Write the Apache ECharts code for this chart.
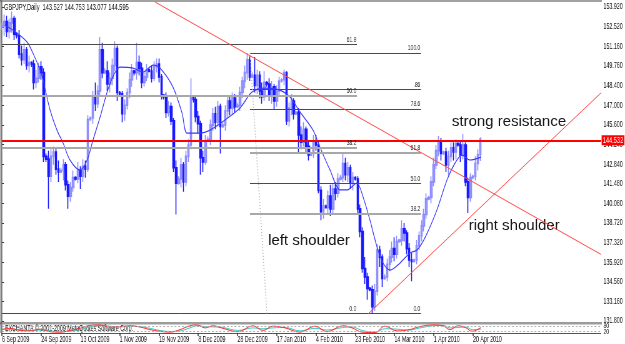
<!DOCTYPE html>
<html><head><meta charset="utf-8">
<script src="https://cdn.jsdelivr.net/npm/echarts@6/dist/echarts.min.js"></script>
<style>html,body{margin:0;padding:0;background:#fff;overflow:hidden;width:625px;height:344px}
#c{width:1000px;height:344px;transform:scaleX(0.625);transform-origin:0 0}</style>
</head><body><div id="c"></div>
<script>
const FONT = "'Liberation Sans',Arial,sans-serif";
// ---- data (bar index 0 = 6 Sep 2009) ----
const opens = [152.5,152.6,152.9,152.2,152.8,153.1,152.0,151.9,150.6,150.2,150.9,149.8,150.0,149.9,148.6,148.9,149.7,149.3,143.4,143.2,
142.0,143.4,143.7,142.5,142.3,142.4,142.8,141.4,140.6,141.2,141.9,141.8,142.4,142.0,142.7,142.5,146.0,146.1,147.6,147.1,
148.0,150.9,149.3,149.4,148.5,148.9,149.8,151.0,147.9,147.8,146.4,147.0,147.9,148.8,149.4,149.3,150.0,149.6,148.6,149.0,
149.5,149.4,148.9,149.7,149.9,149.0,147.7,147.6,146.5,146.9,145.9,142.6,141.5,141.8,142.8,141.6,143.4,144.2,147.6,147.4,
146.2,145.7,143.3,143.0,144.5,144.6,145.6,146.4,145.8,146.9,145.5,145.6,146.6,147.3,146.8,147.5,146.9,147.0,147.9,148.7,
149.3,150.2,149.0,149.1,148.4,149.1,148.0,147.6,148.6,148.5,147.7,148.3,147.3,148.0,148.7,148.8,149.3,145.9,146.8,147.3,
146.4,146.5,144.9,144.4,145.3,144.1,143.5,143.6,144.5,144.2,141.0,139.5,139.9,139.8,140.6,139.7,141.1,140.8,141.8,141.9,
142.9,142.1,142.6,141.5,141.9,141.8,139.7,138.1,135.5,134.9,134.1,134.0,132.8,133.9,136.8,136.3,134.8,134.9,135.8,136.3,
136.9,136.5,137.4,137.5,138.3,138.0,136.9,136.1,136.0,136.1,137.1,137.8,138.5,139.3,140.4,140.5,141.6,142.8,143.8,144.4,
143.6,143.7,142.8,143.4,144.0,143.7,144.3,144.2,143.5,144.2,141.6,140.5,141.9,142.0,142.9,143.527];
const closes = [152.6,152.9,152.2,152.8,153.1,152.0,151.9,150.6,150.2,150.9,149.8,150.0,149.9,148.6,148.9,149.7,149.3,143.4,143.2,142.0,
143.4,143.7,142.5,142.3,142.4,142.8,141.4,140.6,141.2,141.9,141.8,142.4,142.0,142.7,142.5,146.0,146.1,147.6,147.1,148.0,
150.9,149.3,149.4,148.5,148.9,149.8,151.0,147.9,147.8,146.4,147.0,147.9,148.8,149.4,149.3,150.0,149.6,148.6,149.0,149.5,
149.4,148.9,149.7,149.9,149.0,147.7,147.6,146.5,146.9,145.9,142.6,141.5,141.8,142.8,141.6,143.4,144.2,147.6,147.4,146.2,
145.7,143.3,143.0,144.5,144.6,145.6,146.4,145.8,146.9,145.5,145.6,146.6,147.3,146.8,147.5,146.9,147.0,147.9,148.7,149.3,
150.2,149.0,149.1,148.4,149.1,148.0,147.6,148.6,148.5,147.7,148.3,147.3,148.0,148.7,148.8,149.3,145.9,146.8,147.3,146.4,
146.5,144.9,144.4,145.3,144.1,143.5,143.6,144.5,144.2,141.0,139.5,139.9,139.8,140.6,139.7,141.1,140.8,141.8,141.9,142.9,
142.1,142.6,141.5,141.9,141.8,139.7,138.1,135.5,134.9,134.1,134.0,132.8,133.9,136.8,136.3,134.8,134.9,135.8,136.3,136.9,
136.5,137.4,137.5,138.3,138.0,136.9,136.1,136.0,136.1,137.1,137.8,138.5,139.3,140.4,140.5,141.6,142.8,143.8,144.4,143.6,
143.7,142.8,143.4,144.0,143.7,144.3,144.2,143.5,144.2,141.6,140.5,141.9,142.0,142.9,143.5,144.595];
const lows = [152.3,151.9,151.8,151.7,152.1,151.6,151.7,150.3,149.8,149.9,149.5,149.3,149.7,148.1,148.2,148.6,148.8,143.0,143.0,139.7,
141.6,142.8,142.1,141.6,142.2,141.7,141.0,139.7,140.2,140.9,141.7,141.5,141.1,141.6,141.9,142.3,145.9,145.7,146.6,146.8,
147.6,148.9,149.2,148.0,147.9,148.4,149.4,147.3,147.6,145.8,145.9,146.7,147.5,148.3,149.1,148.8,149.1,148.2,148.3,148.7,
149.3,148.6,148.7,149.3,148.6,147.4,147.4,146.1,146.2,145.6,142.3,139.3,141.4,141.2,140.9,141.3,143.0,143.9,147.2,145.8,
145.0,142.1,142.3,142.8,144.4,144.2,145.2,145.3,145.5,143.6,145.4,145.2,146.1,146.3,146.4,146.5,146.8,146.6,147.5,148.2,
148.8,148.7,148.9,147.9,147.8,147.5,147.1,147.3,148.3,147.3,147.1,146.7,146.9,147.6,148.6,148.4,145.6,145.5,146.3,146.0,
146.3,143.6,143.9,144.1,143.6,143.1,143.4,143.3,143.8,140.8,138.9,139.0,139.7,139.3,139.2,139.4,140.3,140.5,141.7,141.6,
141.7,141.6,141.1,141.0,141.7,139.3,137.7,135.2,134.4,133.3,133.9,132.29,132.5,133.6,135.6,134.2,134.7,134.6,135.3,135.9,
136.0,136.2,137.3,137.1,137.4,136.5,135.6,134.6,135.9,135.8,136.8,137.4,138.1,139.0,140.3,140.1,141.3,142.5,143.4,143.1,
143.5,142.3,142.0,143.0,143.1,143.2,144.1,143.0,143.2,141.3,139.4,140.2,141.8,141.7,142.4,143.077];
const highs = [152.8,153.4,153.3,153.1,153.6,153.3,152.1,152.3,151.2,151.4,151.1,150.5,150.1,150.2,149.5,150.0,150.1,149.6,143.6,143.8,
143.9,144.1,144.0,143.1,142.6,143.2,143.0,141.7,141.6,142.4,142.0,143.0,142.7,143.2,143.1,146.3,146.2,148.0,148.6,148.4,
151.8,151.4,149.6,150.1,149.3,150.3,151.5,151.2,148.0,148.0,147.4,148.2,149.3,149.9,149.5,151.4,150.5,150.0,149.4,149.9,
149.6,149.8,150.1,150.3,150.3,149.2,147.8,147.9,147.3,147.2,146.1,143.1,142.0,143.3,143.0,143.8,144.6,148.9,147.7,147.7,
146.6,145.9,143.8,144.9,144.8,146.0,146.8,146.9,147.3,147.1,145.8,147.0,147.7,147.6,147.9,147.8,147.2,148.3,149.0,149.8,
150.68,150.5,149.3,150.4,149.5,149.4,148.6,149.4,148.7,148.9,148.7,148.5,148.4,149.0,148.9,149.5,149.4,147.2,147.8,147.5,
146.6,146.8,145.5,145.8,145.5,144.5,143.7,144.9,144.9,144.5,141.3,140.4,140.0,141.0,141.4,141.5,141.6,142.2,142.1,143.6,
143.3,143.0,142.8,142.3,142.0,142.0,140.0,138.4,136.3,135.2,134.2,134.3,134.4,137.2,137.1,136.5,135.1,136.2,136.8,137.4,
137.7,137.8,137.6,138.9,138.7,138.2,137.3,136.6,136.2,137.5,138.1,138.9,139.7,140.8,140.6,142.0,143.3,144.2,144.83,144.7,
143.8,144.0,143.8,144.4,144.4,144.6,144.4,144.5,144.97,144.4,141.9,142.2,142.1,143.4,143.9,144.753];
// moving average read at [bar index, price]
const maPoints = [[1.2,152.65],[6.1,152.09],[10.2,151.45],[12.6,150.68],[15.5,149.48],[16.7,148.78],[19.6,146.66],[22.4,145.25],[24.9,144.34],[27.7,143.14],[31.8,142.44],[34.7,143.14],[37.1,144.55],[40,146.17],[44,148.5],[48.1,149.69],[53.4,149.62],[57.5,149.34],[61.6,149.83],[64.4,149.62],[69.7,148.28],[73.4,146.45],[75.4,145.04],[80.7,145.04],[84.8,145.25],[90.9,145.96],[97,146.8],[101.9,147.93],[107.2,148.21],[113.3,148.07],[117.4,147.58],[121.5,146.52],[126.8,145.25],[129.6,144.06],[133.7,142.44],[137.8,141.03],[140.6,141.03],[144.7,141.52],[147.2,140.54],[150,138.91],[152.9,137.01],[155.3,135.89],[158.2,135.39],[162.3,135.89],[166.3,136.59],[169.2,136.8],[172.4,137.65],[177.3,139.62],[181.4,141.73],[184.7,142.93],[187.5,143.49],[190.8,143.14],[195.3,143.35]];
// oscillator (sub window) read at [bar index, value]
const stochMain = [[0,40],[3.3,55],[7.3,30],[11.4,25],[15.5,45],[19.6,15],[23.6,10],[27.7,30],[31.8,55],[35.9,90],[40,95],[44,70],[48.1,75],[52.2,85],[56.3,70],[60.3,40],[64.4,20],[68.5,10],[72.6,40],[76.6,85],[79.5,95],[82.8,60],[86,85],[90,55],[96.2,15],[102.3,85],[106.4,30],[110.5,80],[115.4,60],[121.5,10],[127.6,80],[132.5,15],[139,85],[142.7,60],[146.8,10],[152.1,5],[156.1,80],[161,25],[166.3,40],[169.6,70],[175.7,95],[179.8,85],[182.6,40],[185.9,85],[189.2,60],[191.6,20],[195.3,65]];
const stochSignal = [[0,45],[3.3,45],[7.3,40],[11.4,30],[15.5,35],[19.6,25],[23.6,15],[27.7,20],[31.8,40],[35.9,70],[40,90],[44,80],[48.1,72],[52.2,78],[56.3,75],[60.3,55],[64.4,30],[68.5,18],[72.6,25],[76.6,60],[79.5,85],[82.8,75],[86,72],[90,65],[96.2,30],[102.3,60],[106.4,50],[110.5,60],[115.4,65],[121.5,25],[127.6,55],[132.5,35],[139,65],[142.7,70],[146.8,30],[152.1,10],[156.1,50],[161,45],[166.3,35],[169.6,55],[175.7,85],[179.8,90],[182.6,60],[185.9,65],[189.2,70],[191.6,40],[195.3,45]];
const xTickIndex = [0,16,32,48,64,80,96,112,128,144,160,176,192];
const xTickLabels = ['6 Sep 2009','24 Sep 2009','13 Oct 2009','1 Nov 2009','19 Nov 2009','8 Dec 2009','28 Dec 2009','17 Jan 2010','4 Feb 2010','23 Feb 2010','14 Mar 2010','1 Apr 2010','20 Apr 2010'];
const yTickLabels = [153.920,152.520,151.160,149.760,148.400,147.000,145.600,144.240,142.840,141.480,140.080,138.720,137.320,135.920,134.560,133.160,131.800];
const subTickLabels = [0,20,80,100];
// Fibonacci sets: label, price, and start/end bar index
const fib1Labels = ['0.0','38.2','50.0','61.8'];
const fib1Prices = [132.33,144.03,147.65,151.27];
const fib1Gray = [false,true,true,false];
const fib1Span = [0,144.7];
const fib2Labels = ['0.0','38.2','50.0','61.8','78.6','.86','100.0'];
const fib2Prices = [132.33,139.34,141.50,143.67,146.75,148.11,150.68];
const fib2Gray = [false,true,false,true,false,false,false];
const fib2Span = [101.1,170.8];
const fibTrend = [[101.1,150.68],[108,132.33]];
const resistance = 144.532;
const downTrend = [[62.4,154.27],[244.2,136.49]];
const upTrend = [[149.2,132.29],[244.2,147.87]];
const header = 'GBPJPY,Daily  143.527 144.753 143.077 144.595';

const candleData = opens.map((o,i)=>[i,o,closes[i],lows[i],highs[i]]);
function fibLines(labels, prices, gray, span){
  return labels.map((lb,k)=>[
    {coord:[span[0],prices[k]],
     lineStyle:{color: gray[k]?'#a8a8a8':'#4a4a4a', width: gray[k]?2:1, type:'solid'},
     label:{show:true, formatter:lb, position:'insideEndTop', distance:1, color:'#222', fontSize:8, fontFamily:FONT}},
    {coord:[span[1],prices[k]]}
  ]);
}
const red = '#ff4a4a';
const mlData = [].concat(
  fibLines(fib1Labels,fib1Prices,fib1Gray,fib1Span),
  fibLines(fib2Labels,fib2Prices,fib2Gray,fib2Span),
  [[{coord:fibTrend[0], lineStyle:{color:'#b0b0b0',width:1.5,type:[1,2]}, label:{show:false}},{coord:fibTrend[1]}]],
  [[{coord:downTrend[0], lineStyle:{color:red,width:1,type:'solid'}, label:{show:false}},{coord:downTrend[1]}]],
  [[{coord:upTrend[0], lineStyle:{color:red,width:1,type:'solid'}, label:{show:false}},{coord:upTrend[1]}]],
  [{yAxis:resistance, lineStyle:{color:'#ff0000',width:2,type:'solid'},
    label:{show:true, position:'end', distance:1, formatter:resistance.toFixed(3), color:'#fff', backgroundColor:'#ff0000', padding:[1,2,0,2], fontSize:9, fontFamily:FONT}}]
);

const XMAX = 244.2;
const chart = echarts.init(document.getElementById('c'), null, {renderer:'canvas'});
chart.setOption({
  animation:false,
  backgroundColor:'#fff',
  grid:[
    {left:3.2, right:38.4, top:1, height:321},
    {left:3.2, right:38.4, top:324.5, height:8.5}
  ],
  xAxis:[
    {type:'value', gridIndex:0, min:0, max:XMAX, show:false},
    {type:'value', gridIndex:1, min:0, max:XMAX,
     axisLine:{show:true, lineStyle:{color:'#555', width:1}},
     axisTick:{show:true, customValues:xTickIndex, length:3, lineStyle:{color:'#333', width:1.5}},
     axisLabel:{show:true, customValues:xTickIndex, formatter:(v)=>xTickLabels[xTickIndex.indexOf(Math.round(v))]||'',
       align:'left', margin:2, fontSize:8.5, color:'#111', fontFamily:FONT},
     splitLine:{show:false}}
  ],
  yAxis:[
    {type:'value', gridIndex:0, position:'right', min:131.729, max:154.343, scale:true,
     axisLine:{show:true, lineStyle:{color:'#777', width:1.5}},
     axisTick:{show:true, customValues:yTickLabels, length:3, inside:false, lineStyle:{color:'#333'}},
     axisLabel:{show:true, customValues:yTickLabels, formatter:(v)=>v.toFixed(3), margin:4, fontSize:8.5, color:'#111', fontFamily:FONT},
     splitLine:{show:false}},
    {type:'value', gridIndex:1, position:'right', min:0, max:100,
     axisLine:{show:true, lineStyle:{color:'#777', width:1.5}},
     axisTick:{show:true, customValues:subTickLabels, length:3, lineStyle:{color:'#333'}},
     axisLabel:{show:true, customValues:subTickLabels, margin:4, fontSize:8, color:'#111', fontFamily:FONT},
     splitLine:{show:false}}
  ],
  series:[
    {type:'candlestick', xAxisIndex:0, yAxisIndex:0, data:candleData, encode:{x:0,y:[1,2,3,4]},
     barWidth:3,
     itemStyle:{color:'#9a9aff', color0:'#1a1aff', borderColor:'#8c8cff', borderColor0:'#1a1aff', borderWidth:1.6},
     markLine:{silent:true, symbol:['none','none'], animation:false, data:mlData}},
    {type:'line', xAxisIndex:0, yAxisIndex:0, data:maPoints, symbol:'none', smooth:0.3,
     lineStyle:{color:'#3a3aff', width:1.2}, z:3},
    {type:'line', xAxisIndex:1, yAxisIndex:1, data:stochSignal, symbol:'none', smooth:0.4,
     lineStyle:{color:'#40c8c8', width:1},
     markLine:{silent:true, symbol:['none','none'], label:{show:false},
       lineStyle:{color:'#b0b0b0', type:[3,3], width:1}, data:[{yAxis:20},{yAxis:80}]}},
    {type:'line', xAxisIndex:1, yAxisIndex:1, data:stochMain, symbol:'none', smooth:0.4,
     lineStyle:{color:'#ff3030', width:1}}
  ],
  graphic:[
    {type:'rect', shape:{x:0,y:322,width:963,height:2.5}, style:{fill:'#9c9c9c'}, silent:true},
    {type:'line', shape:{x1:1.6,y1:0,x2:1.6,y2:333}, style:{stroke:'#444',lineWidth:1.6}, silent:true},
    {type:'line', shape:{x1:0,y1:1,x2:963,y2:1}, style:{stroke:'#444',lineWidth:1}, silent:true},
    {type:'text', x:6.4, y:3, style:{text:header, fontSize:9, fontFamily:FONT, fill:'#111'}, silent:true},
    {type:'text', x:8, y:324.5, style:{text:'EXCHANTA © 2001-2009 MetaQuotes Software Corp.', fontSize:8.5, fontFamily:FONT, fill:'#111'}, silent:true},
    {type:'text', x:723, y:122, scaleX:1.6, style:{text:'strong resistance', fontSize:15, fontFamily:FONT, fill:'#151515', verticalAlign:'middle'}, silent:true},
    {type:'text', x:429, y:241, scaleX:1.6, style:{text:'left shoulder', fontSize:15, fontFamily:FONT, fill:'#151515', verticalAlign:'middle'}, silent:true},
    {type:'text', x:750, y:226, scaleX:1.6, style:{text:'right shoulder', fontSize:15, fontFamily:FONT, fill:'#151515', verticalAlign:'middle'}, silent:true}
  ]
});
</script></body></html>
